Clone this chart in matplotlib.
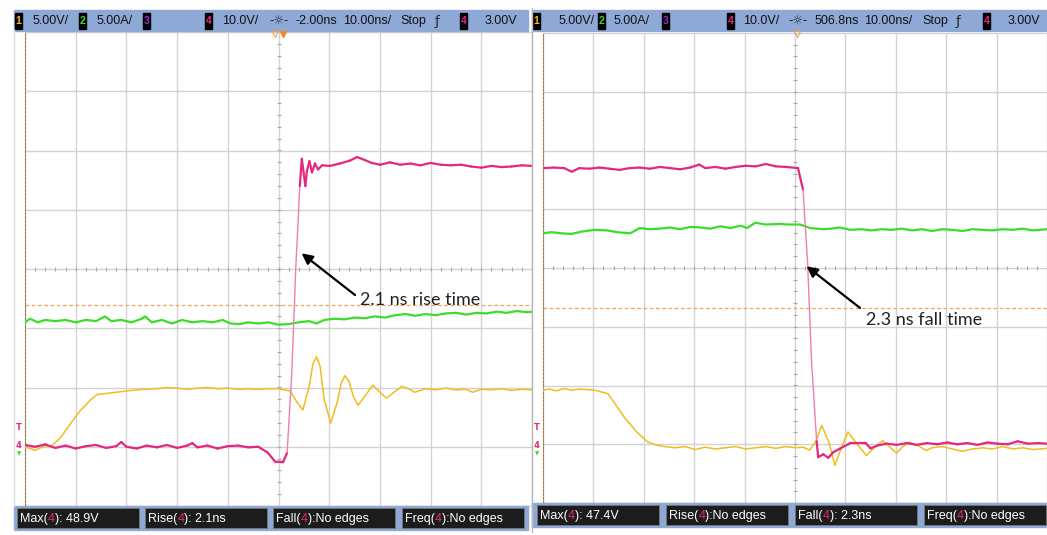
import numpy as np
import matplotlib
matplotlib.use('Agg')
import matplotlib.pyplot as plt
from matplotlib.patches import Rectangle
from matplotlib.collections import LineCollection

W, H = 1047, 535

# probe scales (units/div); every ground marker sits 3 div under centre
SCALE = {'1': 5.0, '2': 5.0, '4': 10.0}
GND = -3.0

C1 = '#f0bd1f'
C2 = '#3ddc2a'
C3 = '#9b30d0'
C4 = '#e4287e'
C4_EDGE = '#f07cb8'
BAR = '#8fa9d6'
BOX = '#1c1c1c'
HDR_FONT = ['Liberation Sans', 'DejaVu Sans']

# ---- left capture: rising edge, centre -2.00 ns, 10 ns/div ----
left_ch4 = [(-52, 0.3), (-50, 0.0), (-48, 0.4), (-46, -0.2), (-44, 0.2), (-42, -0.3),
            (-40, 0.1), (-38, 0.3), (-36, -0.2), (-34, 0.1), (-33, 0.8), (-32, 0.0),
            (-30, -0.3), (-28, 0.2), (-26, -0.1), (-24, 0.3), (-22, -0.2), (-20, 0.2),
            (-19, 0.6), (-18, -0.1), (-16, 0.2), (-14, -0.3), (-12, 0.1), (-10, 0.2),
            (-8, -0.1), (-6, 0.0), (-4.1, -1.0), (-2.7, -2.5), (-1.1, -2.6), (-0.3, -1.0),
            (0.6, 12), (1.4, 30), (2.2, 44), (2.6, 48.6), (3.0, 46), (3.3, 44), (3.6, 46.5),
            (4.1, 48.2), (4.6, 46.3), (5.2, 47.8), (5.8, 46.8), (6.6, 47.5), (8.1, 47.4),
            (10.1, 47.8), (12.1, 48.3), (13.5, 48.9), (15.0, 48.4), (16.4, 47.9), (18, 47.6),
            (20, 48.0), (22, 47.6), (24, 47.8), (26, 47.5), (28, 47.9), (30, 47.6),
            (32, 47.5), (34, 47.6), (36, 47.3), (38, 47.1), (40, 47.4), (42, 47.2),
            (44, 47.3), (46, 47.5), (48, 47.4)]
left_ch1 = [(-52, 0.0), (-50, -0.3), (-48, 0.1), (-47, 0.0), (-45.1, 0.7), (-43.1, 1.9),
            (-41.2, 3.0), (-39.2, 3.9), (-37.8, 4.4), (-36, 4.5), (-34, 4.6), (-32, 4.7),
            (-30, 4.8), (-28, 4.85), (-26, 4.9), (-24, 5.0), (-22, 4.95), (-20, 4.85),
            (-18, 4.95), (-16, 5.0), (-14, 4.9), (-12, 4.95), (-10, 4.85), (-8, 4.9),
            (-6, 4.85), (-4, 4.9), (-2, 4.9), (0.3, 4.7), (1.6, 3.8), (2.8, 3.1), (4.1, 5.2),
            (4.8, 7.0), (5.5, 7.6), (6.2, 6.8), (7.0, 4.0), (8.3, 2.0), (9.6, 3.8),
            (10.4, 5.4), (11.1, 6.0), (11.9, 5.5), (12.8, 4.2), (13.7, 3.5), (15.1, 4.3),
            (16.6, 5.2), (18, 4.6), (19.3, 4.1), (20.8, 4.6), (22.3, 5.1), (23.6, 4.9),
            (24.9, 4.6), (27, 4.9), (29, 4.8), (31, 4.95), (33, 4.8), (35, 4.85),
            (36.3, 4.6), (38, 4.85), (40, 4.8), (42, 4.9), (44, 4.75), (46, 4.85), (48, 4.8)]
left_ch2 = [(-52, 10.5), (-51, 10.8), (-49.5, 10.5), (-48, 10.7), (-46, 10.6), (-44, 10.7),
            (-42, 10.5), (-40, 10.7), (-38, 10.6), (-36.2, 11.0), (-35, 10.6), (-33, 10.7),
            (-31, 10.5), (-29, 10.8), (-28.3, 11.0), (-27, 10.5), (-25, 10.7), (-23, 10.4),
            (-21, 10.7), (-19, 10.5), (-17, 10.6), (-15, 10.5), (-13, 10.7), (-11.5, 10.4),
            (-9.6, 10.35), (-8, 10.5), (-6, 10.4), (-4, 10.5), (-2, 10.3), (0, 10.35),
            (2, 10.5), (4, 10.6), (5.5, 10.4), (7, 10.7), (9, 10.8), (11, 10.75), (13, 10.9),
            (15, 10.85), (17, 11.0), (19, 10.9), (21, 11.1), (23, 11.2), (25, 11.05),
            (27, 11.2), (29, 11.1), (31, 11.25), (33, 11.3), (35, 11.15), (37, 11.3),
            (39, 11.25), (41, 11.4), (43, 11.3), (45, 11.45), (47, 11.35), (48, 11.4)]

# ---- right capture: falling edge, centre 506.8 ns, 10 ns/div ----
right_ch4 = [(456.8, 47.0), (459, 47.1), (461, 47.0), (462.5, 46.4), (464, 47.0), (466, 46.9),
             (468, 47.1), (470, 46.9), (472, 46.7), (474, 47.0), (476, 47.1), (478, 46.9),
             (480, 47.2), (482, 47.0), (484, 46.8), (486, 47.1), (487.8, 47.6), (489, 47.0),
             (491, 47.2), (493, 46.9), (495, 47.2), (497, 47.4), (499, 47.3), (501, 47.7),
             (503, 47.3), (505, 47.2), (507.4, 47.0), (508.4, 43.3), (509.3, 30.8),
             (510.1, 13.8), (511.1, 0.5), (511.4, -2.2), (512.4, -1.7), (513.4, -2.3),
             (514.4, -1.35), (515.8, -0.7), (517.8, 0.2), (520.8, 0.2), (521.8, -0.7),
             (523.2, -0.2), (525, 0.1), (527, -0.1), (529, 0.2), (531, -0.1), (533, 0.2),
             (535, 0.0), (537, 0.3), (539, 0.0), (541, 0.2), (543, -0.1), (545, 0.3),
             (547, 0.1), (549, 0.0), (551, 0.5), (553, 0.1), (555, 0.2), (556.8, 0.1)]
right_ch1 = [(456.8, 4.6), (458, 4.7), (459.5, 4.55), (461, 4.75), (462.5, 4.6), (464, 4.7),
             (465.5, 4.65), (467.1, 4.6), (469.7, 4.3), (473.1, 2.2), (475.4, 1.05),
             (477.6, 0.18), (479.6, -0.1), (481, -0.2), (483, -0.3), (485, -0.2), (487, -0.45),
             (489, -0.25), (491, -0.4), (493, -0.3), (495, -0.2), (497, -0.4), (499, -0.3),
             (501, -0.2), (503, -0.35), (505, -0.2), (507, -0.3), (508.4, -0.25),
             (509.7, -0.5), (511, 0.3), (512.1, 1.6), (513.5, 0.2), (514.7, -1.8),
             (516.0, -0.3), (517.3, 1.05), (519.1, 0.0), (521, -0.96), (522.5, -0.3),
             (524.2, 0.3), (525.5, -0.2), (526.9, -0.75), (528.2, -0.2), (529.5, 0.18),
             (531.2, -0.1), (532.8, -0.53), (534, -0.3), (536, -0.2), (538, -0.4),
             (540, -0.6), (542, -0.4), (544, -0.3), (546, -0.4), (548, -0.2), (550, -0.4),
             (552, -0.3), (554, -0.45), (556.8, -0.35)]
right_ch2 = [(456.8, 17.95), (458.5, 18.05), (460.5, 17.95), (462.4, 17.9), (464.5, 18.1),
             (467.1, 18.25), (469.5, 18.2), (471.5, 18.05), (474.1, 17.95), (476.0, 18.4),
             (478, 18.3), (480, 18.35), (482, 18.45), (484, 18.3), (486, 18.5), (488, 18.45),
             (490, 18.35), (492, 18.55), (494, 18.4), (496, 18.6), (497.3, 18.4),
             (498.9, 18.85), (501, 18.7), (503.8, 18.75), (505.5, 18.7), (507.8, 18.7),
             (509.8, 18.4), (512.4, 18.3), (514, 18.35), (515.7, 18.45), (517.7, 18.25),
             (520, 18.3), (522, 18.2), (524, 18.3), (526, 18.25), (528, 18.35), (530, 18.2),
             (532, 18.3), (534, 18.15), (536, 18.3), (538, 18.25), (540, 18.15), (542, 18.3),
             (544, 18.25), (546, 18.2), (548, 18.3), (550, 18.25), (552, 18.35), (554, 18.2),
             (556.8, 18.3)]

left_header = ['5.00V/', '5.00A/', '10.0V/', '-2.00ns', '10.00ns/', 'Stop', '3.00V']
right_header = ['5.00V/', '5.00A/', '10.0V/', '506.8ns', '10.00ns/', 'Stop', '3.00V']
left_meas = [('Max', ': 48.9V'), ('Rise', ': 2.1ns'), ('Fall', ':No edges'), ('Freq', ':No edges')]
right_meas = [('Max', ': 47.4V'), ('Rise', ':No edges'), ('Fall', ': 2.3ns'), ('Freq', ':No edges')]

fig = plt.figure(figsize=(W / 100, H / 100), dpi=100)
fig.patch.set_facecolor('white')


def to_div(trace, ch):
    arr = np.array(trace, dtype=float)
    return arr[:, 0], arr[:, 1] / SCALE[ch] + GND


def draw_edge_trace(ax, t, y, color, edge_color, lw):
    # fast edges are drawn thin and pale, like the scope's intensity grading
    pts = np.column_stack([t, y])
    segs = np.stack([pts[:-1], pts[1:]], axis=1)
    steep = np.abs(np.diff(y)) > 0.6
    widths = np.where(steep, 1.0, lw)
    colors = [edge_color if s else color for s in steep]
    ax.add_collection(LineCollection(segs, linewidths=widths, colors=colors,
                                     capstyle='round', zorder=5))


def draw_panel(px, t_mid, ch4, ch1, ch2, thr, label, tip, tail, txt):
    x, y, w, h = px
    ax = fig.add_axes([x / W, 1 - (y + h) / H, w / W, h / H])
    ax.set_xlim(t_mid - 50, t_mid + 50)
    ax.set_ylim(-4, 4)
    ax.set_xticks(np.arange(t_mid - 50, t_mid + 51, 10))
    ax.set_yticks(range(-4, 5))
    ax.grid(color='#d2d2d2', lw=1)
    ax.tick_params(length=0, labelbottom=False, labelleft=False)
    for s in ax.spines.values():
        s.set_color('#d2d2d2')
    ax.spines['left'].set_color('#a8783f')
    ax.spines['left'].set_linestyle((0, (2, 1.5)))
    # fine ticks on the centre cross
    ax.plot(np.arange(t_mid - 50, t_mid + 50.1, 2), np.zeros(51), ls='none',
            marker='|', ms=3, color='#a8a8a8', mew=0.8)
    ax.plot(np.full(41, t_mid), np.arange(-4, 4.01, 0.2), ls='none',
            marker='_', ms=3, color='#a8a8a8', mew=0.8)
    ax.axhline(thr / SCALE['4'] + GND, color='#f4a35a', lw=0.9, ls=(0, (3, 2)))

    ax.plot(*to_div(ch2, '2'), color=C2, lw=1.6, zorder=3)
    ax.plot(*to_div(ch1, '1'), color=C1, lw=1.1, zorder=4)
    draw_edge_trace(ax, *to_div(ch4, '4'), C4, C4_EDGE, 1.6)

    ax.annotate('', xy=tip, xytext=tail,
                arrowprops=dict(arrowstyle='-|>', color='black', lw=1.6,
                                mutation_scale=16, shrinkA=0, shrinkB=0), zorder=6)
    ax.text(txt[0], txt[1], label, fontsize=13, family='Lato', color='#222222',
            va='center', ha='left', zorder=6)


draw_panel((25, 32, 507, 474), -2.0, left_ch4, left_ch1, left_ch2, 23.9,
           '2.1 ns rise time', (2.56, 0.265), (13.1, -0.44), (14.0, -0.52))
draw_panel((543, 33, 504, 470), 506.8, right_ch4, right_ch1, right_ch2, 23.2,
           '2.3 ns fall time', (509.1, 0.03), (519.7, -0.68), (520.9, -0.89))

# overlay in pixel units for the scope chrome
ov = fig.add_axes([0, 0, 1, 1])
ov.set_xlim(0, W)
ov.set_ylim(H, 0)
ov.axis('off')
ov.patch.set_alpha(0)

ov.plot([532, 532], [8, 532], color='#b8b8b8', lw=1)
ov.plot([14, 14], [30, 506], color='#dddddd', lw=1)


def ch_box(x, y, num, color):
    ov.add_patch(Rectangle((x, y), 7, 16, color='black'))
    ov.text(x + 3.5, y + 8, num, color=color, fontsize=7.5, fontweight='bold',
            ha='center', va='center', family=HDR_FONT)


def header(x0, x1, xs, texts):
    ov.add_patch(Rectangle((x0, 10), x1 - x0, 21, color=BAR))
    ch_box(xs[0], 12.5, '1', C1)
    ch_box(xs[2], 12.5, '2', C2)
    ch_box(xs[4], 12.5, '3', C3)
    ch_box(xs[5], 12.5, '4', C4)
    ch_box(xs[11], 12.5, '4', C4)
    pos = [xs[1], xs[3], xs[6], xs[8], xs[9], xs[10], xs[12]]
    for px, s in zip(pos, texts):
        ov.text(px, 21, s, fontsize=9, color='#111111', va='center', ha='left',
                family=HDR_FONT)
    ov.text(xs[7], 21, '-\u263c-', fontsize=8.5, color='#222222', va='center',
            ha='center', family='DejaVu Sans')
    ov.text(xs[13], 21, '\u0192', fontsize=9.5, color='#222222', va='center',
            ha='center', family='DejaVu Sans')


header(14, 528, [15, 33, 79, 97, 143, 205, 222, 279, 296, 343, 400, 460, 485, 437],
       left_header)
header(532, 1047, [533, 559, 598, 614, 662, 727, 743, 798, 815, 864, 922, 983, 1008, 958],
       right_header)
ov.plot([283], [34], marker='v', ms=5, color='#f08a1e')
ov.plot([275], [34], marker='v', ms=5, mfc='none', mec='#f0a050', mew=0.8)
ov.plot([797], [34], marker='v', ms=5, mfc='none', mec='#f0a050', mew=0.8)


def footer(x0, x1, y0, boxes, meas):
    ov.add_patch(Rectangle((x0, y0), x1 - x0, 24, color=BAR))
    for bx, (name, rest) in zip(boxes, meas):
        ov.add_patch(Rectangle((bx, y0 + 2), 122, 20, facecolor=BOX,
                               edgecolor='#777777', lw=0.6))
        t = ov.text(bx + 3, y0 + 19, name + '(', color='white', fontsize=9,
                    va='bottom', ha='left', family=HDR_FONT)
        t = ov.annotate('4', xy=(1, 0), xycoords=t, color=C4, fontsize=9,
                        va='bottom', ha='left', family=HDR_FONT)
        ov.annotate(')' + rest, xy=(1, 0), xycoords=t, color='white', fontsize=9,
                    va='bottom', ha='left', family=HDR_FONT)


footer(14, 528, 506, [17, 145, 273, 402], left_meas)
footer(532, 1047, 503, [537, 666, 795, 924], right_meas)

# ground / trigger markers on the left strips
for gx in (19, 537):
    ov.text(gx, 428, 'T', color=C4, fontsize=6, ha='center', va='center', fontweight='bold')
    ov.text(gx, 445, '4', color=C4, fontsize=6, ha='center', va='center', fontweight='bold')
    ov.text(gx, 454, '\u25bc', color=C2, fontsize=4, ha='center', va='center')

fig.savefig('out.png', dpi=100)
